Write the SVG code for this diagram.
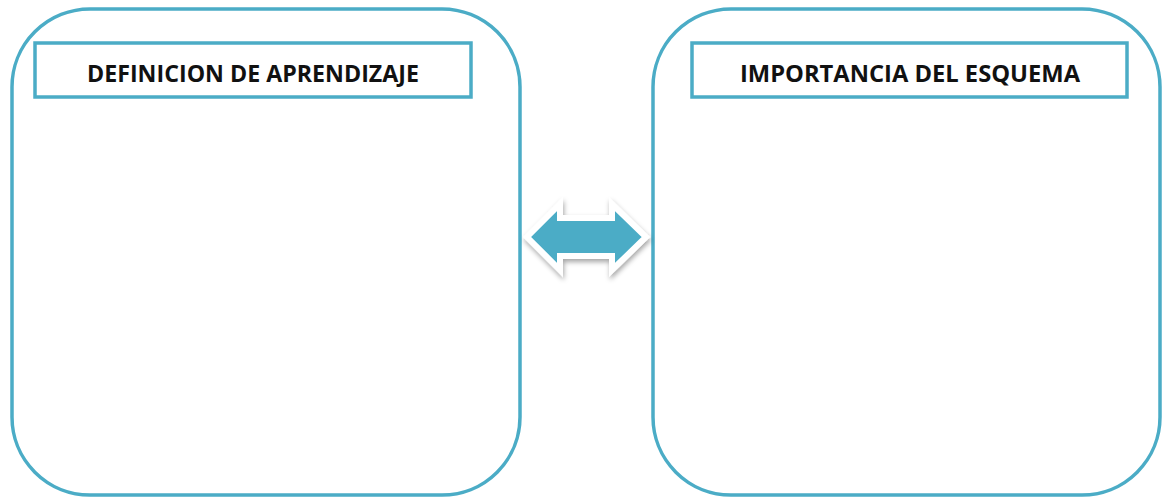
<svg xmlns="http://www.w3.org/2000/svg" width="1163" height="497" viewBox="0 0 1163 497">
<style>
.panel{fill:#fff;stroke:#4bacc6;stroke-width:3.5}
.title{fill:#fff;stroke:#4bacc6;stroke-width:3.5}
.lbl{font-family:"Open Sans","Liberation Sans",sans-serif;font-weight:bold;font-size:23px;fill:#111;text-anchor:middle}
</style>
<defs>
<filter id="sh" x="-20%" y="-30%" width="140%" height="160%">
<feDropShadow dx="1" dy="3" stdDeviation="2.5" flood-color="#000" flood-opacity="0.35"/>
</filter>
</defs>
<rect width="1163" height="497" fill="#fff"/>
<g id="node-definicion">
<rect class="panel" x="12" y="9" width="508" height="486" rx="78" ry="78"/>
<rect class="title" x="35" y="43" width="436" height="54"/>
<text class="lbl" x="253" y="82" textLength="332" lengthAdjust="spacingAndGlyphs">DEFINICION DE APRENDIZAJE</text>
</g>
<g id="node-importancia">
<rect class="panel" x="653" y="9" width="507" height="486" rx="78" ry="78"/>
<rect class="title" x="692" y="43" width="435" height="54"/>
<text class="lbl" x="910" y="82" textLength="340" lengthAdjust="spacingAndGlyphs">IMPORTANCIA DEL ESQUEMA</text>
</g>
<g id="connectors">
<polygon points="527,237 560,204 560,218 612,218 612,204 646,237 612,270 612,256 560,256 560,270" fill="#4bacc6" stroke="#fff" stroke-width="6" stroke-linejoin="miter" filter="url(#sh)"/>
</g>
</svg>
